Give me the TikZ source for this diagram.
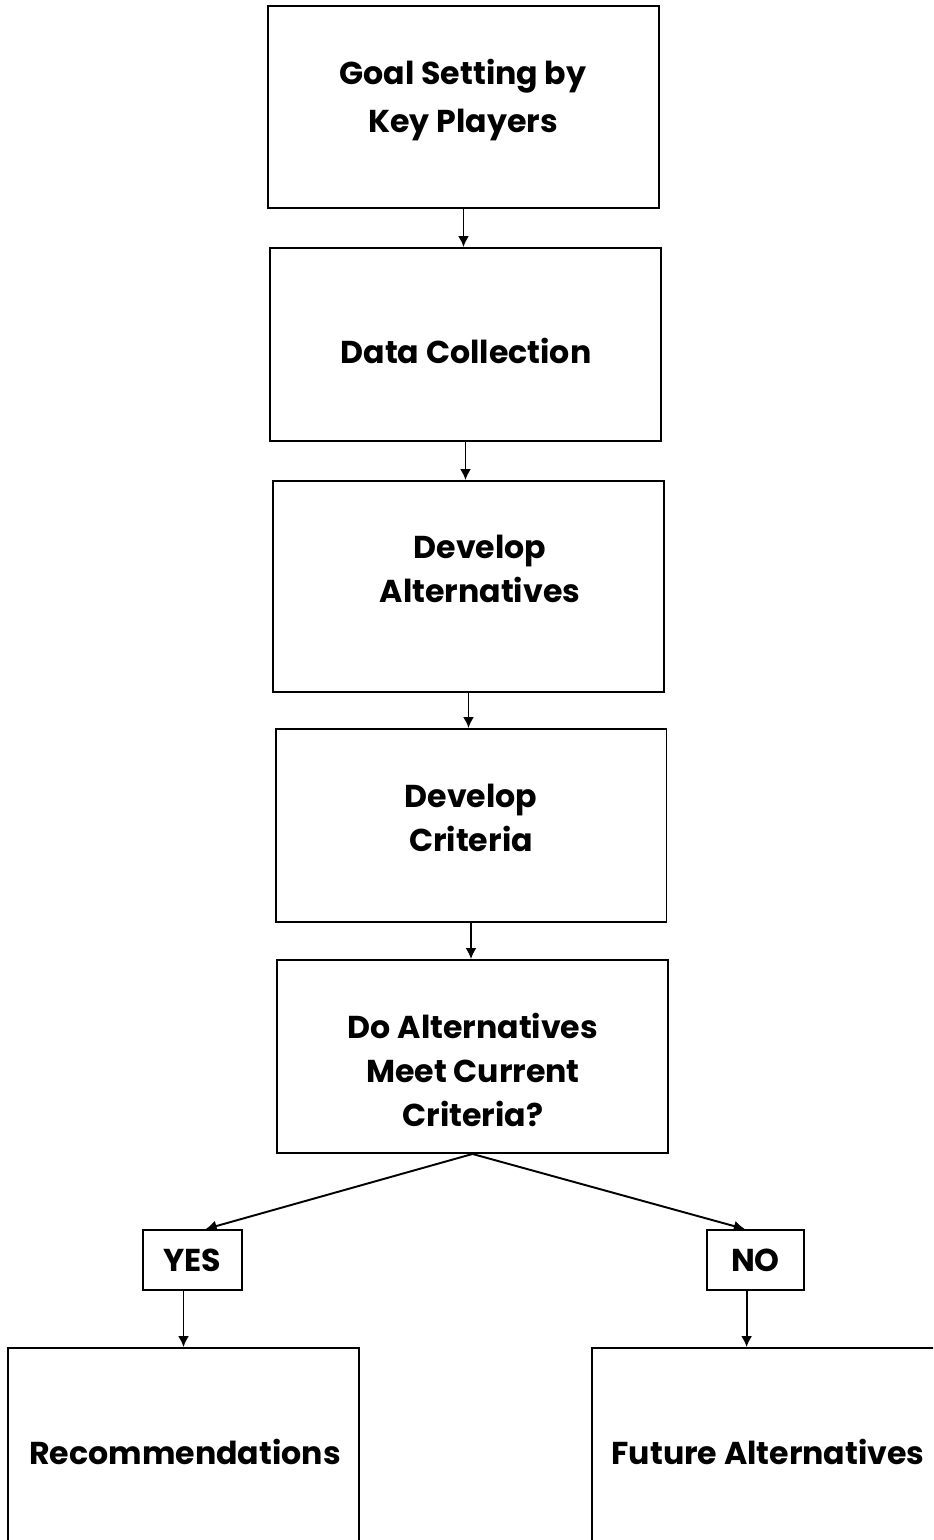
\documentclass[tikz,border=0pt]{standalone}
\usepackage{fontspec}
\setmainfont{Poppins}
\usetikzlibrary{arrows.meta}

\tikzset{
  box/.style={draw,line width=1.1pt,inner sep=0pt,minimum width=7.82cm},
  lbl/.style={align=center,inner sep=0pt,font=\bfseries\fontsize{18}{25}\selectfont},
  arr/.style={line width=1.1pt,-{Latex[length=2.2mm,width=2.2mm]}}
}

\begin{document}
\begin{tikzpicture}[x=0.02cm,y=-0.02cm]
		  \useasboundingbox (0,0) rectangle (933,1540);
		  \clip (0,0) rectangle (933,1540);
		  \foreach \cx/\cy/\h/\nm in {
		  		463.5/107/202/goal,
		  		465.5/344.5/193/data,
		  		468.5/586.5/211/alt,
		  		471/825.5/193/crit,
		  		472.5/1056.5/193/meet}{
		  	\node[box,minimum height=\h*0.02cm] (\nm) at (\cx,\cy) {};
		  }
		  \node[box,minimum width=1.98cm,minimum height=1.2cm] (yes) at (192.5,1260) {};
		  \node[box,minimum width=1.94cm,minimum height=1.2cm] (no) at (755.5,1260) {};
		  \node[box,minimum width=7.02cm,minimum height=4.16cm] (rec) at (183.5,1452) {};
		  \node[box,minimum width=7.2cm,minimum height=4.16cm] (fut) at (772,1452) {};
		  % texts
		  \node[lbl,font=\bfseries\fontsize{18}{27}\selectfont] (goaltxt) at (463,100) {Goal Setting by\\Key Players};
		  \node[lbl] (datatxt) at (466,351) {Data Collection};
		  \node[lbl] (alttxt) at (480,569) {Develop\\Alternatives};
		  \node[lbl] (crittxt) at (471,818) {Develop\\Criteria};
		  \node[lbl] (meettxt) at (473,1070) {Do Alternatives\\Meet Current\\Criteria?};
		  \node[lbl] (yestxt) at (yes) {YES};
		  \node[lbl] (notxt) at (no) {NO};
		  \node[lbl] (rectxt) at (185,1452) {Recommendations};
		  \node[lbl] (futtxt) at (768,1452) {Future Alternatives};
		  % arrows
		  \foreach \a/\b in {goal/data,data/alt,alt/crit,crit/meet}{
		   \draw[arr] (\a.south) -- (\a.south |- \b.north);
		  }
		  \draw[arr] (meet.south) -- (yes.67);
		  \draw[arr] (meet.south) -- (no.109);
		  \draw[arr] (rec.north |- yes.south) -- (rec.north);
		  \draw[arr] (no.254) -- (no.254 |- fut.north);
\end{tikzpicture}
\end{document}
